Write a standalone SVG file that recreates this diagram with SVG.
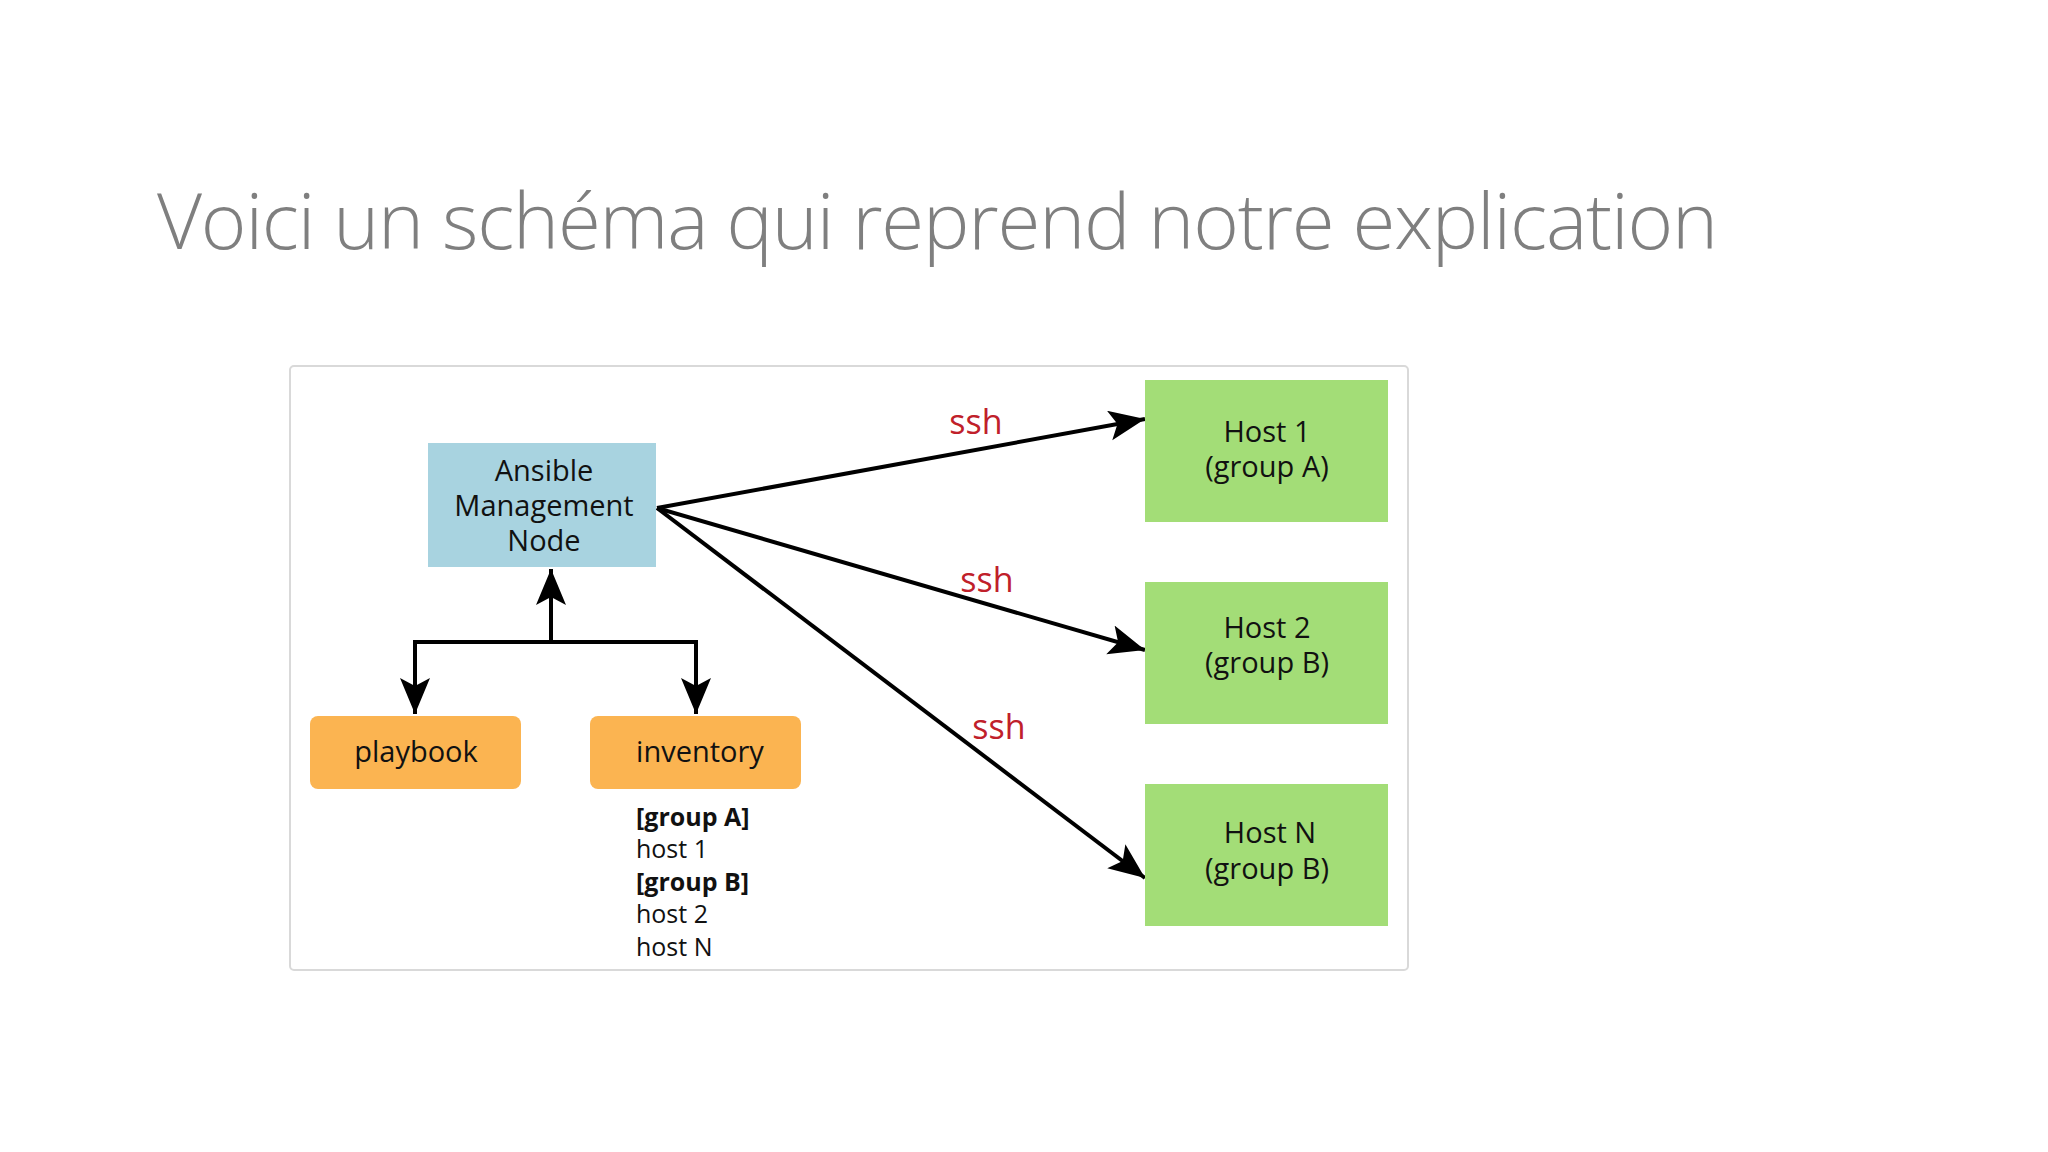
<svg xmlns="http://www.w3.org/2000/svg" width="2048" height="1152" viewBox="0 0 2048 1152">
<style>
.t{font-family:"Open Sans","Liberation Sans",sans-serif;fill:#111}
.c{text-anchor:middle;font-size:29px}
.ssh{font-family:"Open Sans","Liberation Sans",sans-serif;fill:#c0202a;font-size:34px;text-anchor:middle}
.ln{stroke:#000;stroke-width:4;fill:none;marker-end:url(#ah)}
</style>
<defs>
<marker id="ah" markerUnits="userSpaceOnUse" markerWidth="40" markerHeight="40" refX="36" refY="15" orient="auto">
<path d="M0,0 L36,15 L0,30 L8,15 Z" fill="#000"/>
</marker>
</defs>
<rect width="2048" height="1152" fill="#fff"/>
<text x="157" y="249" font-family="'Open Sans','Liberation Sans',sans-serif" font-weight="300" font-size="78" fill="#7f7f7f" textLength="1561">Voici un schéma qui reprend notre explication</text>
<rect x="290" y="366" width="1118" height="604" fill="#fff" stroke="#d9d9d9" stroke-width="2" rx="4"/>
<g id="connectors">
<path class="ln" d="M657,508 L1145,419"/>
<path class="ln" d="M657,508 L1145,650"/>
<path class="ln" d="M657,508 L1145,878"/>
<path class="ln" d="M551,642 L551,569"/>
<path class="ln" d="M415,642 L696,642 M415,640 L415,714"/>
<path class="ln" d="M696,640 L696,714"/>
<text class="ssh" x="976" y="434">ssh</text>
<text class="ssh" x="987" y="592">ssh</text>
<text class="ssh" x="999" y="739">ssh</text>
</g>
<g id="mgmt">
<rect x="428" y="443" width="228" height="124" fill="#a8d3e0"/>
<text class="t c" x="544" y="481">Ansible</text>
<text class="t c" x="544" y="516">Management</text>
<text class="t c" x="544" y="551">Node</text>
</g>
<g id="host1"><rect x="1145" y="380" width="243" height="142" fill="#a3dd77"/>
<text class="t c" x="1267" y="442">Host 1</text><text class="t c" x="1267" y="477">(group A)</text></g>
<g id="host2"><rect x="1145" y="582" width="243" height="142" fill="#a3dd77"/>
<text class="t c" x="1267" y="638">Host 2</text><text class="t c" x="1267" y="673">(group B)</text></g>
<g id="hostn"><rect x="1145" y="784" width="243" height="142" fill="#a3dd77"/>
<text class="t c" x="1270" y="843">Host N</text><text class="t c" x="1267" y="879">(group B)</text></g>
<g id="playbook"><rect x="310" y="716" width="211" height="73" rx="8" fill="#fbb451"/>
<text class="t c" x="416" y="762">playbook</text></g>
<g id="inventory"><rect x="590" y="716" width="211" height="73" rx="8" fill="#fbb451"/>
<text class="t c" x="700" y="762">inventory</text>
<g class="t" font-size="25">
<text x="636" y="826" font-weight="bold">[group A]</text>
<text x="636" y="858">host 1</text>
<text x="636" y="891" font-weight="bold">[group B]</text>
<text x="636" y="923">host 2</text>
<text x="636" y="956">host N</text>
</g></g>
</svg>
